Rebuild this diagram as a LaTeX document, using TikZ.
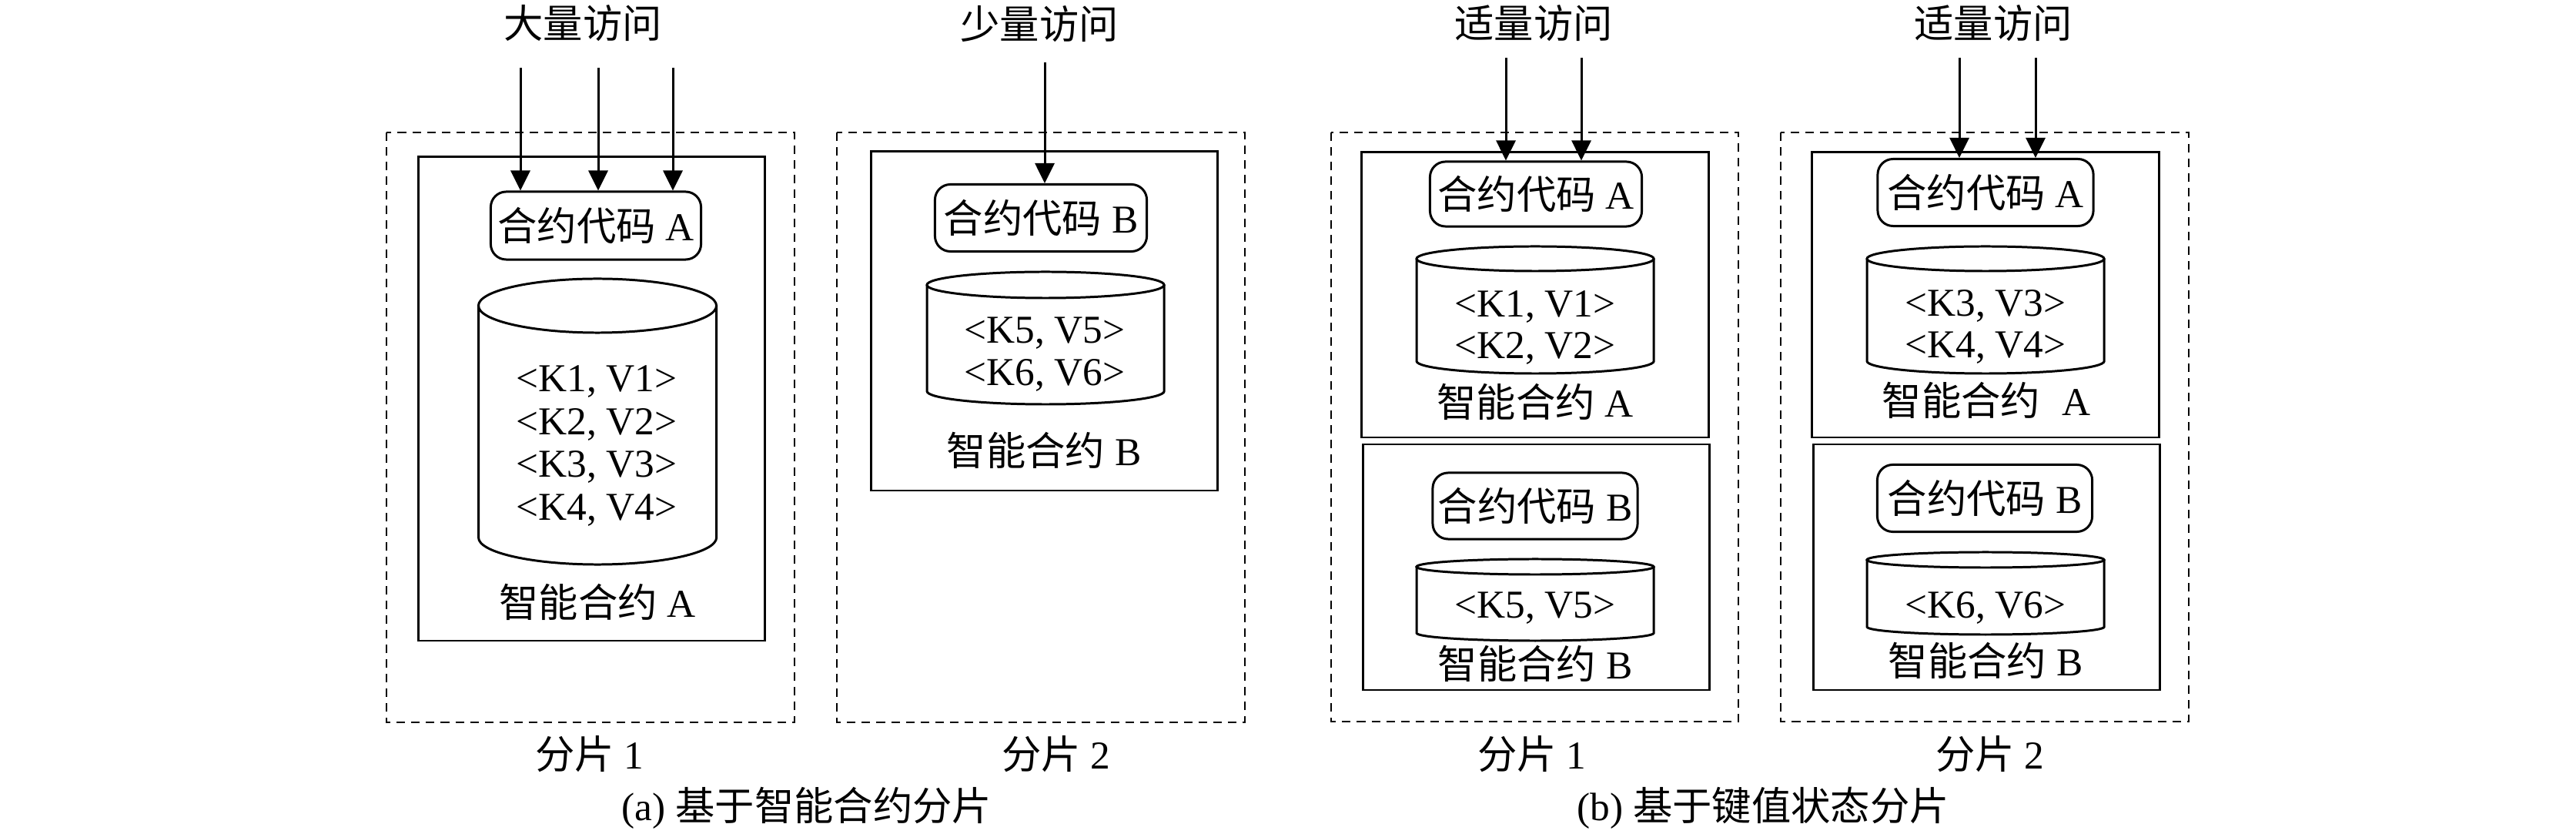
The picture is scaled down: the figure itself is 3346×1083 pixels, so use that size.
\documentclass[tikz,border=0pt]{standalone}
\usepackage{fontspec}
\setmainfont{Liberation Serif}
\newfontfamily\cjk{Noto Sans CJK SC}
\newcommand{\zh}[1]{{\cjk #1}}
\usetikzlibrary{arrows.meta}
\begin{document}
\begin{tikzpicture}[x=0.01cm,y=0.01cm,
  every node/.style={font=\fontsize{14.6}{17}\selectfont, inner sep=0pt},
  codebox/.style={draw, rounded corners=0.2cm, line width=0.85pt},
  dashbox/.style={draw, dash pattern=on 0.11cm off 0.08cm, line width=0.8pt},
  innerbox/.style={draw, line width=0.85pt},
  arr/.style={-{Triangle[length=0.26cm,width=0.25cm]}, line width=0.85pt},
  cyl/.style={draw, line width=0.85pt},
  txt/.style={anchor=base}]
\useasboundingbox[fill=white] (0,0) rectangle (3346,-1083);

% ---------- shard boxes ----------
\draw[dashbox] (502,-172) rectangle (1032,-938);
\draw[dashbox] (1087,-172) rectangle (1617,-938);
\draw[dashbox] (1729,-172) rectangle (2258,-937);
\draw[dashbox] (2313,-172) rectangle (2843,-937);

\draw[innerbox] (543,-204) rectangle (993,-832);
\draw[innerbox] (1131,-197) rectangle (1581,-637);
\draw[innerbox] (1768,-198) rectangle (2219,-568);
\draw[innerbox] (1770,-577) rectangle (2220,-896);
\draw[innerbox] (2353,-198) rectangle (2804,-568);
\draw[innerbox] (2355,-577) rectangle (2805,-896);

% ---------- cylinders ----------
% A1
\draw[cyl] (621.5,-397) -- (621.5,-698) arc[start angle=180,end angle=360,x radius=1.545cm,y radius=0.35cm] -- (930.5,-397);
\draw[cyl] (776,-397) ellipse [x radius=1.545cm, y radius=0.35cm];
% B2
\draw[cyl] (1204,-370) -- (1204,-508) arc[start angle=180,end angle=360,x radius=1.54cm,y radius=0.17cm] -- (1512,-370);
\draw[cyl] (1358,-370) ellipse [x radius=1.54cm, y radius=0.17cm];
% A3
\draw[cyl] (1840,-336) -- (1840,-469) arc[start angle=180,end angle=360,x radius=1.54cm,y radius=0.16cm] -- (2148,-336);
\draw[cyl] (1994,-336) ellipse [x radius=1.54cm, y radius=0.16cm];
% B3
\draw[cyl] (1840,-736) -- (1840,-822) arc[start angle=180,end angle=360,x radius=1.54cm,y radius=0.10cm] -- (2148,-736);
\draw[cyl] (1994,-736) ellipse [x radius=1.54cm, y radius=0.10cm];
% A4
\draw[cyl] (2425,-336) -- (2425,-469) arc[start angle=180,end angle=360,x radius=1.54cm,y radius=0.16cm] -- (2733,-336);
\draw[cyl] (2579,-336) ellipse [x radius=1.54cm, y radius=0.16cm];
% B4
\draw[cyl] (2425,-727) -- (2425,-814) arc[start angle=180,end angle=360,x radius=1.54cm,y radius=0.10cm] -- (2733,-727);
\draw[cyl] (2579,-727) ellipse [x radius=1.54cm, y radius=0.10cm];

% ---------- contract code boxes ----------
\node[codebox, minimum width=2.73cm, minimum height=0.88cm] (codeA1) at (774,-293) {\zh{合约代码} A};
\node[codebox, minimum width=2.75cm, minimum height=0.87cm] (codeB2) at (1352,-283) {\zh{合约代码} B};
\node[codebox, minimum width=2.75cm, minimum height=0.84cm] (codeA3) at (1995,-252) {\zh{合约代码} A};
\node[codebox, minimum width=2.66cm, minimum height=0.86cm] (codeB3) at (1994,-657) {\zh{合约代码} B};
\node[codebox, minimum width=2.80cm, minimum height=0.87cm] (codeA4) at (2579,-250) {\zh{合约代码} A};
\node[codebox, minimum width=2.79cm, minimum height=0.87cm] (codeB4) at (2578,-647) {\zh{合约代码} B};

% ---------- access labels and arrows ----------
\node[txt] (acc1) at (757,-50) {\zh{大量访问}};
\node[txt] (acc2) at (1350,-51) {\zh{少量访问}};
\node[txt] (acc3) at (1992,-50) {\zh{适量访问}};
\node[txt] (acc4) at (2589,-50) {\zh{适量访问}};

\coordinate (s1a) at (676,-88);
\coordinate (s1b) at (777,-88);
\coordinate (s1c) at (874,-88);
\coordinate (s2a) at (1357,-81);
\coordinate (s3a) at (1956,-75);
\coordinate (s3b) at (2054,-75);
\coordinate (s4a) at (2545,-75);
\coordinate (s4b) at (2644,-75);
\draw[arr] (s1a) -- (s1a |- codeA1.north);
\draw[arr] (s1b) -- (s1b |- codeA1.north);
\draw[arr] (s1c) -- (s1c |- codeA1.north);
\draw[arr] (s2a) -- (s2a |- codeB2.north);
\draw[arr] (s3a) -- (s3a |- codeA3.north);
\draw[arr] (s3b) -- (s3b |- codeA3.north);
\draw[arr] (s4a) -- (s4a |- codeA4.north);
\draw[arr] (s4b) -- (s4b |- codeA4.north);

% ---------- key-value entries ----------
\node[txt] (kv1) at (775,-509) {<K1, V1>};
\node[txt] (kv2) at (775,-564.5) {<K2, V2>};
\node[txt] (kv3) at (775,-620) {<K3, V3>};
\node[txt] (kv4) at (775,-675.5) {<K4, V4>};

\node[txt] (kv5b) at (1357,-446) {<K5, V5>};
\node[txt] (kv6b) at (1357,-501) {<K6, V6>};

\node[txt] (kv1c) at (1994,-412) {<K1, V1>};
\node[txt] (kv2c) at (1994,-466) {<K2, V2>};
\node[txt] (kv5c) at (1994,-803) {<K5, V5>};

\node[txt] (kv3d) at (2579,-411) {<K3, V3>};
\node[txt] (kv4d) at (2579,-465) {<K4, V4>};
\node[txt] (kv6d) at (2579,-803) {<K6, V6>};

% ---------- contract names ----------
\node[txt] (scA1) at (776,-801) {\zh{智能合约} A};
\node[txt] (scB2) at (1356,-605) {\zh{智能合约} B};
\node[txt] (scA3) at (1994,-542) {\zh{智能合约} A};
\node[txt] (scB3) at (1994,-882) {\zh{智能合约} B};
\node[txt] (scA4) at (2580,-540) {\zh{智能合约}\hspace{0.55em}A};
\node[txt] (scB4) at (2579,-877) {\zh{智能合约} B};

% ---------- shard labels ----------
\node[txt] (sh1) at (766,-998) {\zh{分片} 1};
\node[txt] (sh2) at (1372,-998) {\zh{分片} 2};
\node[txt] (sh3) at (1990,-998) {\zh{分片} 1};
\node[txt] (sh4) at (2585,-998) {\zh{分片} 2};

% ---------- captions ----------
\node[txt] (capa) at (1048,-1065) {(a) \zh{基于智能合约分片}};
\node[txt] (capb) at (2290,-1065) {(b) \zh{基于键值状态分片}};
\end{tikzpicture}
\end{document}
